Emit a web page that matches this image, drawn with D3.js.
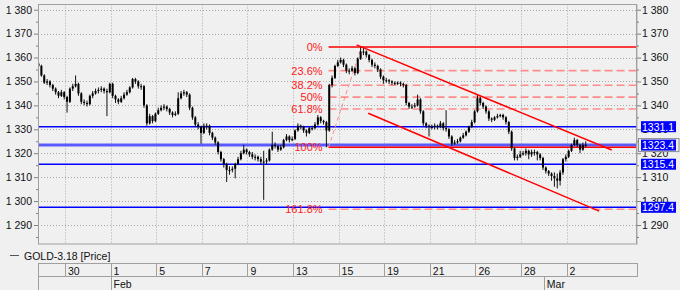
<!DOCTYPE html>
<html>
<head>
<meta charset="utf-8">
<style>
  body { margin: 0; background: #f0f0f0; }
  svg { display: block; font-family: "Liberation Sans", Arial, sans-serif; font-size: 10.5px; }
  .grid line { stroke: #a8a8a8; stroke-dasharray: 1,2; }
  .axis text { fill: #111; font-size: 10.5px; }
  .axis line { stroke: #808080; }
  .axis path { display: none; }
</style>
</head>
<body>
<svg width="680" height="290"></svg>
<script src="https://d3js.org/d3.v7.min.js"></script>
<script>
// hourly-ish bars, 8 per trading day, day 0 = Jan 29
const barStart = -0.16, barsPerDay = 8;
const firstOpen = 1357.5;
const closes = [
  1356.5,1352.5,1349.5,1350,1348.5,1347,1345.5,1344,1345.5,1343.5,
  1341.5,1347,1348,1349,1345,1341.5,1341,1340.5,1344,1345,
  1346,1346.5,1347,1346,1345.5,1349,1344,1342.5,1341.5,1343,
  1344.5,1345.5,1347.5,1351,1350,1348,1348,1340,1332.5,1335.5,
  1333.5,1336.5,1338,1339,1339.5,1338.5,1337,1336,1336.5,1343,
  1345,1345.5,1344.5,1339,1335,1332,1331,1328.5,1331.5,1331.5,
  1328.5,1326.5,1324.5,1320.5,1317.5,1315.5,1313,1313,1313.5,1315.5,
  1317.5,1320,1321.5,1320.5,1319.5,1318.5,1318.5,1317.5,1316.5,1316.5,
  1317,1321.5,1323.5,1323,1321.5,1322.5,1325.5,1327,1325.5,1326,
  1329.5,1331.5,1331,1329.5,1328.5,1330.5,1330.5,1332,1335,1333.5,
  1333,1329.5,1348.5,1351.5,1356.5,1358,1359,1357,1354.5,1354.5,
  1355.5,1353.5,1359.5,1362.5,1362.5,1361,1359,1357,1356.5,1355,
  1352,1350.5,1350.5,1350,1349.5,1349,1349.5,1349,1348.5,1341,
  1339.5,1339.5,1340,1342.5,1337.5,1332.5,1331.5,1331,1331,1331.5,
  1331,1332.5,1330.5,1330,1327,1324,1324.5,1325,1326.5,1327.5,
  1329,1331,1333,1337.5,1343,1341,1339.5,1337.5,1334.5,1334,
  1335,1335.5,1336,1335,1333,1329,1322,1318,1318.5,1319.5,
  1320,1321,1319.5,1320.5,1320.5,1319.5,1318,1314,1312.5,1311.5,
  1310.5,1309.5,1308.5,1312,1317.5,1318.5,1321,1323.5,1325.5,1323.5,
  1321.5,1323.5,1323.4
];
const highs = [
  1358,1357,1353,1351,1350.5,1349,1347.5,1346,1346.5,1346,
  1344,1347.5,1349,1352.5,1349.5,1345.5,1342.5,1342,1344.5,1346,
  1347,1347.5,1348,1347.5,1347,1349.5,1349.5,1344.5,1343,1344,
  1345.5,1346.5,1348,1351.5,1351.5,1350.5,1349,1348.5,1340.5,1336.5,
  1336,1337,1339,1340,1340.5,1340,1339,1337.5,1337.5,1345.5,
  1346,1346.5,1346,1345,1339.5,1335.5,1333,1331.5,1332.5,1332.5,
  1332,1329,1327,1325,1321,1318,1316,1314.5,1314.5,1316,
  1318.5,1321,1323.5,1322,1321,1320.5,1319.5,1319,1318.5,1321,
  1318,1322,1329,1324.5,1323.5,1323.5,1326,1328,1327.5,1327,
  1330,1332.5,1332,1331.5,1330,1331,1331.5,1333,1336,1335.5,
  1334,1333.5,1349,1352.5,1357,1359,1360,1359.5,1357.5,1355.5,
  1356.5,1356,1360,1364.4,1364,1363,1361.5,1359.5,1358,1357,
  1355.5,1352.5,1351.5,1351,1350.5,1350,1350,1350,1349.5,1349,
  1341.5,1340.5,1341,1344.5,1343,1338,1333,1332,1332,1332.5,
  1332,1333.5,1333,1338,1330.5,1327.5,1325.5,1326,1327,1328.5,
  1329.5,1331.5,1334,1338,1344.5,1343.5,1341.5,1340,1338,1335,
  1335.5,1336.5,1336.5,1336.5,1335.5,1333.5,1329.5,1322.5,1319.5,1321,
  1321,1322,1321.5,1321.5,1321.5,1321,1320,1318.5,1314.5,1313,
  1312,1312,1311.5,1313,1318,1319.5,1321.5,1324,1326.5,1326,
  1324,1324.5,1325
];
const lows = [
  1355.5,1352,1349,1348.5,1347.5,1346,1344.5,1343,1343.5,1342.5,
  1337,1341,1346,1347.5,1344,1340.5,1340,1339.5,1340,1343,
  1344.5,1345,1345.5,1345,1335.5,1345,1343,1341,1340.5,1341,
  1342.5,1344,1345,1347,1349,1347,1346.5,1339,1331.5,1332,
  1332.5,1333,1336,1337.5,1338,1337.5,1336,1335,1335.5,1336,
  1342.5,1344,1343.5,1338,1334,1331,1330,1324,1328,1330,
  1327.5,1325.5,1323.5,1319.5,1316.5,1314,1308,1311,1312,1309.5,
  1315,1317,1319.5,1319.5,1318.5,1317.5,1317,1316.5,1315.5,1300.5,
  1315.5,1316.5,1321,1322,1320.5,1321,1322,1325,1324.5,1325,
  1325.5,1329,1330,1328.5,1327,1328,1329.5,1330,1331.5,1332.5,
  1332,1322.5,1329,1347.5,1351,1356,1357.5,1356,1353.5,1353,
  1354,1352.5,1353,1359,1361,1360,1358,1356,1355.5,1354,
  1351,1349,1349.5,1349,1348.5,1348.5,1348.5,1348,1347.5,1340,
  1338.5,1338.5,1339,1339.5,1336.5,1331.5,1330.5,1327,1330,1330,
  1330,1330.5,1329.5,1329,1326,1323,1323.5,1324,1324.5,1326,
  1327,1328.5,1330.5,1332.5,1337,1340,1338.5,1336.5,1333.5,1333,
  1333.5,1334.5,1335,1334,1332,1328,1321,1317,1317,1318,
  1319,1319,1317.5,1318.5,1319,1317,1317,1313,1311.5,1310.5,
  1308.5,1306,1305.3,1306.5,1311,1316.5,1318,1320.5,1323,1322.5,
  1320,1321,1322.5
];

const priceTicks = [1290, 1300, 1310, 1320, 1330, 1340, 1350, 1360, 1370, 1380];
const minorTicks = [1285, 1295, 1305, 1315, 1325, 1335, 1345, 1355, 1365, 1375];
const dayTicks = [1, 3, 5, 7, 9, 11, 13, 15, 17, 19, 21, 23];
const dayLabels = ["30", "1", "5", "7", "9", "13", "15", "19", "21", "26", "28", "2"];
const monthDays = [3, 22];
const monthLabels = ["Feb", "Mar"];

const levelPrices = [1331.1, 1323.4, 1315.4, 1297.4];
const lastPrice = 1323.4;

const fibLevels = [0, 0.236, 0.382, 0.5, 0.618, 1, 1.618];
const fibLabels = ["0%", "23.6%", "38.2%", "50%", "61.8%", "100%", "161.8%"];
const fibHigh = 1364.4, fibLow = 1322.5;
const fibHighDay = 14.0, fibLowDay = 12.56;

const channelDays = [[13.79, 24.98], [14.30, 24.43]];
const channelPrices = [[1365.3, 1321.35], [1336.7, 1295.8]];

const svg = d3.select("svg");
const L = 38, R = 636, T = 4.5, B = 244;

const x = d3.scaleLinear().domain([0, 23]).range([42.2, 566.6]);
const y = d3.scaleLinear().domain([1290, 1380]).range([225, 9.7]);
const fmt = v => d3.format(",")(v).replace(",", " ");

svg.append("defs").append("clipPath").attr("id", "plot")
  .append("rect").attr("x", L).attr("y", T).attr("width", R - L).attr("height", B - T);

// grid
const grid = svg.append("g").attr("class", "grid");
grid.selectAll(".h").data(priceTicks).join("line")
  .attr("x1", L).attr("x2", R)
  .attr("y1", d => Math.round(y(d)) + 0.5).attr("y2", d => Math.round(y(d)) + 0.5);
grid.selectAll(".v").data(dayTicks).join("line")
  .attr("x1", d => Math.round(x(d)) + 0.5).attr("x2", d => Math.round(x(d)) + 0.5)
  .attr("y1", T).attr("y2", B);

const plot = svg.append("g").attr("clip-path", "url(#plot)");

// horizontal price levels
plot.selectAll(".lvl").data(levelPrices).join("line")
  .attr("x1", L).attr("x2", R)
  .attr("y1", d => y(d)).attr("y2", d => y(d))
  .attr("stroke", d => d === lastPrice ? "#5a5aff" : "#0000ff")
  .attr("stroke-width", d => d === lastPrice ? 3 : 1.6);

// fibonacci
const fibX = x(fibLowDay);
const fibData = fibLevels.map((lv, i) => ({ lv, label: fibLabels[i], p: fibHigh - lv * (fibHigh - fibLow) }));
plot.selectAll(".fib").data(fibData).join("line")
  .attr("x1", fibX).attr("x2", R)
  .attr("y1", d => y(d.p)).attr("y2", d => y(d.p))
  .attr("stroke", d => (d.lv === 0 || d.lv === 1) ? "#ff0000" : "#ff8a8a")
  .attr("stroke-width", d => (d.lv === 0 || d.lv === 1) ? 1.3 : 1.6)
  .attr("stroke-dasharray", d => (d.lv === 0 || d.lv === 1) ? null : "8,4");
plot.append("line")
  .attr("x1", fibX).attr("y1", y(fibLow))
  .attr("x2", x(fibHighDay)).attr("y2", y(fibHigh))
  .attr("stroke", "#ff8a8a").attr("stroke-width", 1).attr("stroke-dasharray", "4,3");
svg.selectAll(".fibt").data(fibData).join("text")
  .attr("x", fibX - 6).attr("y", d => y(d.p) + 4)
  .attr("text-anchor", "end").attr("fill", "#ff2020").attr("font-size", "11px")
  .text(d => d.label);

// candles
const bars = closes.map((c, i) => ({
  t: barStart + i / barsPerDay,
  o: i ? closes[i - 1] : firstOpen, h: highs[i], l: lows[i], c
}));
const cg = plot.append("g");
cg.selectAll(".wick").data(bars).join("line")
  .attr("x1", d => x(d.t)).attr("x2", d => x(d.t))
  .attr("y1", d => y(d.h)).attr("y2", d => y(d.l))
  .attr("stroke", "#111").attr("stroke-width", 1);
cg.selectAll(".body").data(bars).join("rect")
  .attr("x", d => x(d.t) - 1).attr("width", 2)
  .attr("y", d => y(Math.max(d.o, d.c)))
  .attr("height", d => Math.max(1, Math.abs(y(d.o) - y(d.c))))
  .attr("fill", "#000");

// channel
plot.selectAll(".chan").data(channelDays).join("line")
  .attr("x1", (d, i) => x(d[0])).attr("y1", (d, i) => y(channelPrices[i][0]))
  .attr("x2", (d, i) => x(d[1])).attr("y2", (d, i) => y(channelPrices[i][1]))
  .attr("stroke", "#ff0000").attr("stroke-width", 1.5);

// frame
svg.append("rect").attr("x", L + 0.5).attr("y", T).attr("width", R - L).attr("height", B - T)
  .attr("fill", "none").attr("stroke", "#a0a0a0");
svg.append("line").attr("x1", R + 1.5).attr("x2", R + 1.5).attr("y1", T).attr("y2", B + 1)
  .attr("stroke", "#d0d0d0");

// axes
svg.append("g").attr("class", "axis").attr("transform", `translate(${L},0)`)
  .call(d3.axisLeft(y).tickValues(priceTicks).tickSize(4).tickPadding(2).tickFormat(fmt));
svg.append("g").attr("class", "axis").attr("transform", `translate(${L},0)`)
  .call(d3.axisLeft(y).tickValues(minorTicks).tickSize(2).tickFormat(""));
svg.append("g").attr("class", "axis").attr("transform", `translate(${R + 1},0)`)
  .call(d3.axisRight(y).tickValues(priceTicks).tickSize(4).tickPadding(1).tickFormat(fmt));
svg.append("g").attr("class", "axis").attr("transform", `translate(${R + 1},0)`)
  .call(d3.axisRight(y).tickValues(minorTicks).tickSize(2).tickFormat(""));

// price labels on the right
svg.append("rect").attr("x", 638.5).attr("y", y(lastPrice) - 6.5).attr("width", 40.5).attr("height", 13)
  .attr("fill", "#f0f0f0").attr("stroke", "#8c8c8c");
const pl = svg.selectAll(".plab").data(levelPrices).join("g")
  .attr("transform", d => `translate(641,${y(d)})`);
pl.append("rect").attr("x", 0).attr("y", -5.5).attr("width", 35).attr("height", 11).attr("fill", "#0000ff");
pl.append("text").attr("x", 1).attr("y", 4).attr("fill", "#fff").attr("font-size", "10.5px")
  .text(d => d.toFixed(1));

// legend
svg.append("line").attr("x1", 10).attr("x2", 19).attr("y1", 255.5).attr("y2", 255.5)
  .attr("stroke", "#555");
svg.append("text").attr("x", 24).attr("y", 259.5).attr("fill", "#111").text("GOLD-3.18 [Price]");

// date scale box
const db = svg.append("g").attr("stroke", "#a0a0a0");
db.append("line").attr("x1", L).attr("x2", R + 1).attr("y1", 263.5).attr("y2", 263.5);
db.append("line").attr("x1", L).attr("x2", R + 1).attr("y1", 276.5).attr("y2", 276.5);
db.append("line").attr("x1", L + 0.5).attr("x2", L + 0.5).attr("y1", 263).attr("y2", 290);
db.append("line").attr("x1", R + 1.5).attr("x2", R + 1.5).attr("y1", 263).attr("y2", 277);
db.selectAll(".dsep").data(dayTicks).join("line")
  .attr("x1", d => Math.round(x(d)) + 0.5).attr("x2", d => Math.round(x(d)) + 0.5)
  .attr("y1", 263.5).attr("y2", 276.5);
db.selectAll(".msep").data(monthDays).join("line")
  .attr("x1", d => Math.round(x(d)) + 0.5).attr("x2", d => Math.round(x(d)) + 0.5)
  .attr("y1", 276.5).attr("y2", 290);
svg.selectAll(".dlab").data(dayTicks).join("text")
  .attr("x", d => x(d) + 3).attr("y", 274.5).attr("fill", "#111")
  .text((d, i) => dayLabels[i]);
svg.selectAll(".mlab").data(monthDays).join("text")
  .attr("x", d => x(d) + 3).attr("y", 288).attr("fill", "#111")
  .text((d, i) => monthLabels[i]);
</script>
</body>
</html>
